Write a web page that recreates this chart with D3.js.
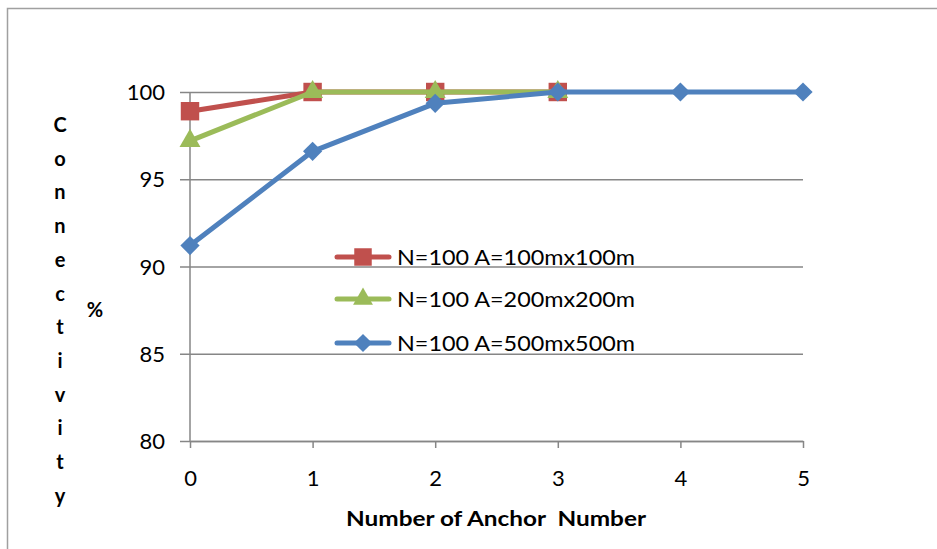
<!DOCTYPE html>
<html>
<head>
<meta charset="utf-8">
<script src="https://cdn.jsdelivr.net/npm/d3@7"></script>
<style>
  body { margin: 0; background: #fff; }
  text { font-family: Lato, "Open Sans", sans-serif; fill: #000; }
</style>
</head>
<body>
<div id="chart"></div>
<script>
// data
var anchors = [0, 1, 2, 3, 4, 5];
var seriesNames = ["N=100 A=100mx100m", "N=100 A=200mx200m", "N=100 A=500mx500m"];
var red100 = [98.9, 100, 100, 100];
var green200 = [97.2, 100, 100, 100];
var blue500 = [91.2, 96.6, 99.35, 100, 100, 100];
var yTicks = [80, 85, 90, 95, 100];
var yLabel = "Connectivity";

var W = 937, H = 549;
var svg = d3.select("#chart").append("svg").attr("width", W).attr("height", H);

// outer frame (only top and left visible)
svg.append("rect").attr("x", 7.5).attr("y", 8.5).attr("width", W).attr("height", H)
  .attr("fill", "none").attr("stroke", "#a0a0a0").attr("stroke-width", 1.5);

var x = d3.scaleLinear().domain([0, 5]).range([190, 803]);
var y = d3.scaleLinear().domain([80, 100]).range([441, 92]);
var gray = "#868686";

// grid + y axis ticks
var yAxis = d3.axisLeft(y).tickValues(yTicks).tickSize(-(803 - 180)).tickSizeOuter(0).tickPadding(15);
var gy = svg.append("g").attr("transform", "translate(180,0)").call(yAxis);
gy.select(".domain").remove();
gy.selectAll("line").attr("stroke", gray).attr("stroke-width", 1.5);
gy.selectAll("text").style("font-size", "22px").attr("font-family", "Lato").attr("dy", "0.35em");

// y axis line
svg.append("line").attr("x1", x(0)).attr("x2", x(0)).attr("y1", y(100)).attr("y2", y(80))
  .attr("stroke", gray).attr("stroke-width", 1.5);

// x axis
var xAxis = d3.axisBottom(x).tickValues(anchors).tickSize(7).tickSizeOuter(0).tickPadding(22)
  .tickFormat(d3.format("d"));
var gx = svg.append("g").attr("transform", "translate(0," + y(80) + ")").call(xAxis);
gx.select(".domain").attr("stroke", gray).attr("stroke-width", 1.5);
gx.selectAll("line").attr("stroke", gray).attr("stroke-width", 1.5);
gx.selectAll("text").style("font-size", "22px").attr("font-family", "Lato");

var series = [
  {name: seriesNames[0], values: red100, color: "#C0504D", shape: d3.symbolSquare, size: 340, rot: 0},
  {name: seriesNames[1], values: green200, color: "#9BBB59", shape: d3.symbolTriangle, size: 190, rot: 0},
  {name: seriesNames[2], values: blue500, color: "#4F81BD", shape: d3.symbolSquare, size: 185, rot: 45}
];

var line = d3.line().x(function(d, i){ return x(anchors[i]); }).y(function(d){ return y(d); });

series.forEach(function(s){
  var g = svg.append("g");
  g.append("path").datum(s.values).attr("d", line)
    .attr("fill", "none").attr("stroke", s.color).attr("stroke-width", 5)
    .attr("stroke-linejoin", "round");
  g.selectAll("path.m").data(s.values).enter().append("path").attr("class", "m")
    .attr("transform", function(d, i){ return "translate(" + x(anchors[i]) + "," + y(d) + ") rotate(" + s.rot + ")"; })
    .attr("d", d3.symbol().type(s.shape).size(s.size))
    .attr("fill", s.color);
});

// legend
var legendY = [257, 299, 343];
series.forEach(function(s, i){
  var g = svg.append("g").attr("transform", "translate(335," + legendY[i] + ")");
  g.append("line").attr("x1", 2).attr("x2", 54).attr("stroke", s.color)
    .attr("stroke-width", 5).attr("stroke-linecap", "round");
  g.append("path").attr("transform", "translate(28,0) rotate(" + s.rot + ")")
    .attr("d", d3.symbol().type(s.shape).size(s.size * 0.9)).attr("fill", s.color);
  g.append("text").attr("x", 62).attr("dy", "0.35em").style("font-size", "22px")
    .attr("textLength", 238).attr("lengthAdjust", "spacingAndGlyphs").text(s.name);
});

// y axis title: vertical letters
svg.append("g").selectAll("text").data(yLabel.split("")).enter().append("text")
  .attr("x", 60).attr("y", function(d, i){ return 125 + i * 33.7; })
  .attr("dy", "0.35em").attr("text-anchor", "middle")
  .style("font-size", "20px").style("font-weight", "bold").text(function(d){ return d; });
svg.append("text").attr("x", 95).attr("y", 310).attr("dy", "0.35em").attr("text-anchor", "middle")
  .style("font-size", "20px").style("font-weight", "bold").text("%");

// x axis title
svg.append("text").attr("x", 346).attr("y", 519).attr("dy", "0.35em")
  .style("font-size", "20px").style("font-weight", "bold")
  .attr("textLength", 300).attr("lengthAdjust", "spacingAndGlyphs")
  .text("Number of Anchor  Number").attr("xml:space", "preserve");
</script>
</body>
</html>
